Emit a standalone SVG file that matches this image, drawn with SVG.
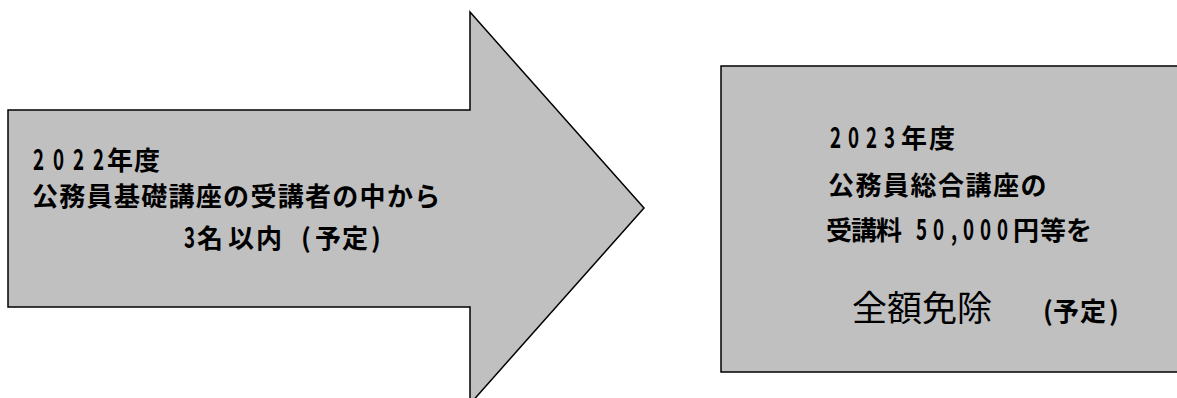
<svg xmlns="http://www.w3.org/2000/svg" width="1177" height="398" viewBox="0 0 1177 398">
<style>
.shape{fill:#c0c0c0;stroke:#000;stroke-width:1.5;}
.t{font-family:"Noto Sans CJK JP","Noto Sans",sans-serif;font-size:26px;font-weight:bold;fill:#000;}
.d{font-family:"Noto Sans CJK JP","Noto Sans",sans-serif;font-size:26px;font-weight:bold;fill:#000;}
.big{font-family:"Noto Sans CJK JP","Noto Sans",sans-serif;font-size:35px;font-weight:normal;fill:#000;}
</style>
<rect width="1177" height="398" fill="#fff"/>
<g id="arrow">
<polygon class="shape" points="8,110 470,110 470,12 644,208 470,404 470,307 8,307"/>
<text class="d" transform="matrix(0.72,0,0,1.1,33,170)" x="0 27.8 55.6 83.3" y="0">2022</text>
<text class="t" x="107 134" y="170">年度</text>
<text class="t" x="32" y="206" letter-spacing="1.3">公務員基礎講座の受講者の中から</text>
<text class="d" transform="matrix(0.72,0,0,1.1,184,248)" x="0" y="0">3</text>
<text class="t" x="197 228 256 301 315 342 371" y="248">名以内(予定)</text>
</g>
<g id="box">
<rect class="shape" x="721" y="66" width="470" height="306"/>
<text class="d" transform="matrix(0.72,0,0,1.1,830,148)" x="0 25 50 75" y="0">2023</text>
<text class="t" x="901 929" y="148">年度</text>
<text class="t" x="828" y="195" letter-spacing="1.5">公務員総合講座の</text>
<text class="t" x="826 851 876" y="240">受講料</text>
<text class="d" transform="matrix(0.72,0,0,1.1,916,240)" x="0 23.6 48.6 65.3 88.9 112.5" y="0">50,000</text>
<text class="t" x="1013 1040 1066" y="240">円等を</text>
<text class="big" x="852" y="321">全額免除</text>
<text class="t" x="1043 1053 1080 1109" y="321">(予定)</text>
</g>
<g id="connectors"></g>
</svg>
